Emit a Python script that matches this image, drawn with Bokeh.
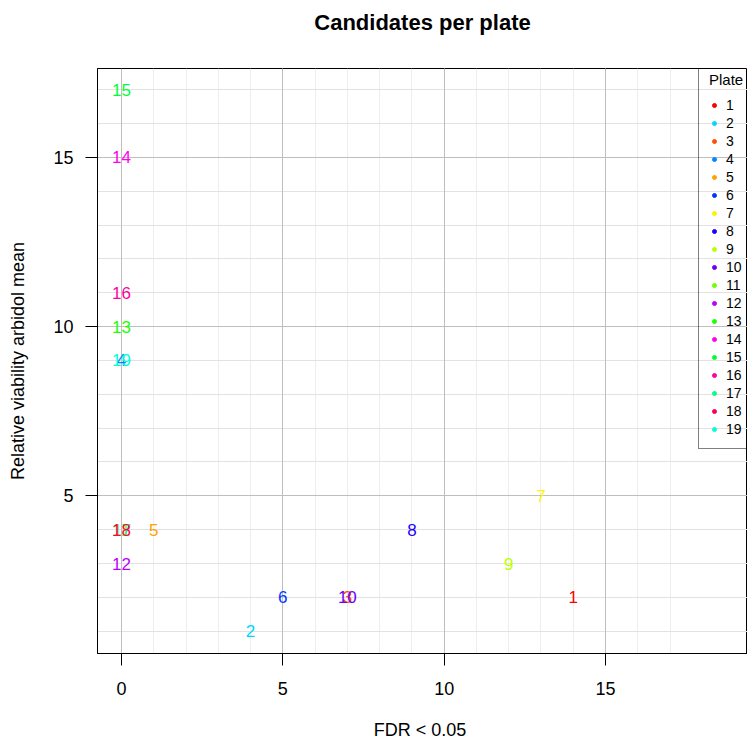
from bokeh.plotting import figure
from bokeh.models import ColumnDataSource, FixedTicker, Grid, Legend, LegendItem, Range1d, LinearAxis
from bokeh.core.properties import value
from bokeh.embed import file_html
from bokeh.resources import INLINE

# ---- data ----
plates = [str(i) for i in range(1, 20)]
fdr_count = [14, 4, 7, 0, 1, 5, 13, 9, 12, 7, 0, 0, 0, 0, 0, 0, 0, 0, 0]
viability_mean = [2, 1, 2, 9, 4, 2, 5, 4, 3, 2, 4, 3, 10, 15, 17, 11, 4, 4, 9]
plate_colors = ["#FF0000", "#00D7FF", "#FF5100", "#0086FF", "#FFA100", "#0036FF",
                "#FFF200", "#1B00FF", "#BCFF00", "#6B00FF", "#6BFF00", "#BC00FF",
                "#1BFF00", "#FF00F2", "#00FF36", "#FF00A1", "#00FF86", "#FF0051",
                "#00FFD7"]
x_ticks = [0, 5, 10, 15]
y_ticks = [5, 10, 15]
x_minor = list(range(1, 18))
y_minor = list(range(1, 18))
title_text = "Candidates per plate"
x_label = "FDR <  0.05"
y_label = "Relative viability arbidol mean"

FONT = "Liberation Sans"

p = figure(width=747, height=742,
           x_range=Range1d(-0.743, 19.40), y_range=Range1d(0.34, 17.63),
           output_backend="svg", toolbar_location=None,
           min_border_left=97, min_border_right=0,
           min_border_top=68, min_border_bottom=88)

p.background_fill_color = "white"
p.border_fill_color = "white"
p.outline_line_color = "black"
p.outline_line_width = 1
p.title.text = ""

# grids: minor first, major on top
p.xgrid.ticker = FixedTicker(ticks=x_minor)
p.xgrid.grid_line_color = "#EEEEEE"
p.ygrid.ticker = FixedTicker(ticks=y_minor)
p.ygrid.grid_line_color = "#E2E2E2"
p.add_layout(Grid(dimension=0, ticker=FixedTicker(ticks=x_ticks),
                  grid_line_color="#BEBEBE"))
p.add_layout(Grid(dimension=1, ticker=FixedTicker(ticks=y_ticks),
                  grid_line_color="#BEBEBE"))

# axes
p.xaxis.ticker = FixedTicker(ticks=x_ticks)
p.yaxis.ticker = FixedTicker(ticks=y_ticks)
p.xaxis.axis_label = x_label
p.yaxis.axis_label = y_label
for ax in (p.xaxis, p.yaxis):
    ax.major_tick_out = 12
    ax.major_tick_in = 0
    ax.minor_tick_out = 0
    ax.minor_tick_in = 0
    ax.axis_line_color = "black"
    ax.major_tick_line_color = "black"
    ax.major_label_text_font = FONT
    ax.major_label_text_font_size = "18px"
    ax.major_label_text_color = "black"
    ax.axis_label_text_font = FONT
    ax.axis_label_text_font_size = "18px"
    ax.axis_label_text_font_style = "normal"
    ax.axis_label_text_color = "black"
p.xaxis.major_label_standoff = 16
p.yaxis.major_label_standoff = 12
p.xaxis.axis_label_standoff = 22
p.yaxis.axis_label_standoff = 22

# chart title, carried by a tickless axis above the frame
title_axis = LinearAxis(ticker=FixedTicker(ticks=[]), axis_label=title_text,
                        axis_line_color=None, major_tick_line_color=None,
                        minor_tick_line_color=None,
                        major_tick_out=0, major_tick_in=0,
                        minor_tick_out=0, minor_tick_in=0,
                        major_label_standoff=0, axis_label_standoff=34,
                        axis_label_text_font=FONT, axis_label_text_font_size="22px",
                        axis_label_text_font_style="bold",
                        axis_label_text_color="black")
p.add_layout(title_axis, "above")

# labels in plot
src = ColumnDataSource(dict(x=fdr_count, y=viability_mean, label=plates, color=plate_colors))
p.text(x="x", y="y", text="label", source=src, text_color="color",
       text_font=value(FONT), text_font_size="17px",
       text_align="center", text_baseline="middle")

# legend (marker renderers with zero size so only the legend shows dots)
items = []
for i, (lab, col) in enumerate(zip(plates, plate_colors)):
    s = ColumnDataSource(dict(x=[fdr_count[i]], y=[viability_mean[i]]))
    r = p.scatter(x="x", y="y", source=s, marker="circle", size=0,
                  fill_color=col, line_color=col)
    items.append(LegendItem(label=lab, renderers=[r]))

legend = Legend(items=items, location=(601, 204), title="Plate",
                padding=10, spacing=0, margin=0,
                label_height=18, glyph_height=12, glyph_width=10,
                label_standoff=7,
                label_text_font=FONT, label_text_font_size="14px",
                label_text_color="black",
                title_text_font=FONT, title_text_font_size="15px",
                title_text_font_style="normal", title_text_color="black",
                title_standoff=8,
                border_line_color="black", border_line_width=1,
                background_fill_alpha=0)
p.add_layout(legend)

open("out.html", "w").write(file_html(p, INLINE))
